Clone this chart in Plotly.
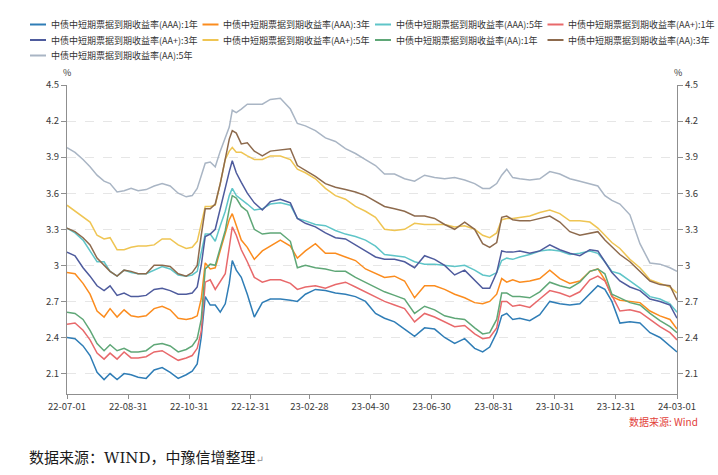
import plotly.graph_objects as go

# ---------------- data ----------------
dates = [
    "2022-07-01", "2022-07-09", "2022-07-17", "2022-07-24", "2022-07-31", "2022-08-07", "2022-08-13", "2022-08-20",
    "2022-08-27", "2022-09-03", "2022-09-10", "2022-09-18", "2022-09-26", "2022-10-04", "2022-10-12", "2022-10-20",
    "2022-10-28", "2022-11-03", "2022-11-08", "2022-11-12", "2022-11-16", "2022-11-21", "2022-11-26", "2022-12-01",
    "2022-12-06", "2022-12-10", "2022-12-13", "2022-12-17", "2022-12-22", "2022-12-28", "2023-01-04", "2023-01-12",
    "2023-01-20", "2023-01-30", "2023-02-09", "2023-02-16", "2023-02-24", "2023-03-06", "2023-03-16", "2023-03-26",
    "2023-04-05", "2023-04-15", "2023-04-25", "2023-05-05", "2023-05-14", "2023-05-24", "2023-06-03", "2023-06-13",
    "2023-06-23", "2023-07-03", "2023-07-13", "2023-07-23", "2023-08-02", "2023-08-12", "2023-08-20", "2023-08-27",
    "2023-09-03", "2023-09-08", "2023-09-13", "2023-09-19", "2023-09-26", "2023-10-06", "2023-10-16", "2023-10-26",
    "2023-11-05", "2023-11-15", "2023-11-25", "2023-12-05", "2023-12-13", "2023-12-20", "2023-12-27", "2024-01-04",
    "2024-01-14", "2024-01-24", "2024-02-03", "2024-02-13", "2024-02-23", "2024-03-01",
]

aaa_1y = [2.40, 2.39, 2.33, 2.25, 2.11, 2.05, 2.10, 2.05, 2.10, 2.09,
          2.07, 2.06, 2.13, 2.15, 2.11, 2.06, 2.09, 2.12, 2.18, 2.40,
          2.74, 2.67, 2.67, 2.61, 2.68, 2.85, 3.04, 2.96, 2.90, 2.76,
          2.57, 2.69, 2.72, 2.72, 2.71, 2.70, 2.76, 2.80, 2.79, 2.77,
          2.76, 2.74, 2.70, 2.60, 2.56, 2.53, 2.47, 2.41, 2.48, 2.47,
          2.40, 2.35, 2.39, 2.31, 2.28, 2.32, 2.44, 2.58, 2.60, 2.55,
          2.56, 2.54, 2.59, 2.70, 2.68, 2.67, 2.68, 2.76, 2.83, 2.80,
          2.70, 2.52, 2.53, 2.52, 2.44, 2.40, 2.33, 2.28]
aaa_3y = [2.94, 2.93, 2.85, 2.76, 2.62, 2.57, 2.64, 2.57, 2.63, 2.58,
          2.57, 2.58, 2.64, 2.66, 2.63, 2.56, 2.55, 2.56, 2.58, 2.72,
          3.02, 2.97, 2.98, 3.12, 3.28, 3.38, 3.43, 3.33, 3.21, 3.15,
          3.05, 3.12, 3.16, 3.21, 3.16, 3.06, 3.12, 3.18, 3.10, 3.10,
          3.07, 3.04, 2.97, 2.93, 2.90, 2.91, 2.87, 2.73, 2.83, 2.83,
          2.80, 2.76, 2.73, 2.69, 2.68, 2.70, 2.76, 2.89, 2.86, 2.88,
          2.86, 2.87, 2.89, 2.96, 2.89, 2.85, 2.87, 2.95, 2.97, 2.88,
          2.74, 2.71, 2.70, 2.69, 2.62, 2.58, 2.55, 2.47]
aaa_5y = [3.31, 3.27, 3.21, 3.12, 3.03, 3.03, 2.95, 2.91, 2.96, 2.94,
          2.93, 2.93, 2.96, 2.99, 2.97, 2.92, 2.91, 2.92, 2.95, 3.12,
          3.26, 3.26, 3.20, 3.33, 3.45, 3.58, 3.64, 3.58, 3.55, 3.51,
          3.46, 3.47, 3.51, 3.52, 3.50, 3.39, 3.37, 3.34, 3.33, 3.29,
          3.26, 3.24, 3.21, 3.16, 3.09, 3.08, 3.07, 3.03, 3.01, 3.01,
          3.00, 2.99, 3.00, 2.96, 2.92, 2.91, 2.94, 3.04, 3.06, 3.05,
          3.07, 3.09, 3.12, 3.13, 3.12, 3.09, 3.10, 3.12, 3.10, 3.03,
          2.95, 2.93, 2.87, 2.81, 2.74, 2.72, 2.68, 2.61]
aap_1y = [2.51, 2.52, 2.46, 2.38, 2.27, 2.22, 2.27, 2.22, 2.28, 2.23,
          2.23, 2.24, 2.28, 2.29, 2.25, 2.21, 2.23, 2.25, 2.31, 2.45,
          2.86, 2.88, 2.80, 2.87, 2.93, 3.15, 3.32, 3.25, 3.13, 3.03,
          2.90, 2.86, 2.88, 2.88, 2.85, 2.80, 2.82, 2.83, 2.81, 2.84,
          2.86, 2.82, 2.78, 2.74, 2.70, 2.67, 2.64, 2.53, 2.60, 2.57,
          2.53, 2.49, 2.50, 2.43, 2.39, 2.40, 2.48, 2.70, 2.70, 2.66,
          2.67, 2.65, 2.72, 2.79, 2.77, 2.74, 2.78, 2.88, 2.91, 2.87,
          2.75, 2.62, 2.63, 2.61, 2.55, 2.49, 2.44, 2.38]
aap_3y = [3.11, 3.08, 2.98, 2.91, 2.83, 2.79, 2.83, 2.75, 2.77, 2.74,
          2.74, 2.75, 2.80, 2.81, 2.79, 2.76, 2.76, 2.77, 2.82, 3.00,
          3.24, 3.26, 3.30, 3.48, 3.65, 3.78, 3.87, 3.77, 3.69, 3.60,
          3.52, 3.46, 3.53, 3.55, 3.52, 3.39, 3.35, 3.32, 3.27, 3.23,
          3.22, 3.17, 3.12, 3.07, 3.05, 3.05, 3.03, 2.98, 3.08, 3.05,
          3.00, 2.92, 2.96, 2.88, 2.81, 2.81, 2.94, 3.12, 3.11, 3.11,
          3.12, 3.10, 3.12, 3.17, 3.13, 3.10, 3.08, 3.13, 3.12, 3.03,
          2.94, 2.87, 2.82, 2.79, 2.72, 2.70, 2.67, 2.56]
aap_5y = [3.50, 3.45, 3.40, 3.36, 3.25, 3.22, 3.23, 3.13, 3.13, 3.15,
          3.16, 3.16, 3.17, 3.22, 3.22, 3.17, 3.14, 3.15, 3.20, 3.35,
          3.49, 3.49, 3.50, 3.68, 3.88, 3.95, 3.98, 3.94, 3.94, 3.91,
          3.88, 3.88, 3.91, 3.91, 3.88, 3.80, 3.77, 3.72, 3.64, 3.58,
          3.55, 3.49, 3.45, 3.40, 3.30, 3.29, 3.30, 3.35, 3.34, 3.34,
          3.34, 3.32, 3.33, 3.30, 3.25, 3.23, 3.27, 3.38, 3.39, 3.39,
          3.40, 3.41, 3.44, 3.46, 3.43, 3.37, 3.37, 3.36, 3.31, 3.25,
          3.19, 3.14, 3.05, 2.98, 2.88, 2.85, 2.82, 2.77]
aa_1y = [2.61, 2.60, 2.55, 2.46, 2.35, 2.29, 2.34, 2.29, 2.31, 2.28,
         2.28, 2.29, 2.34, 2.35, 2.33, 2.28, 2.30, 2.33, 2.39, 2.55,
         2.97, 3.01, 3.00, 3.15, 3.29, 3.47, 3.58, 3.56, 3.49, 3.45,
         3.30, 3.26, 3.27, 3.27, 3.20, 2.98, 3.00, 2.98, 2.97, 2.95,
         2.95, 2.90, 2.86, 2.82, 2.78, 2.75, 2.72, 2.60, 2.66, 2.63,
         2.58, 2.56, 2.55, 2.48, 2.43, 2.44, 2.55, 2.77, 2.77, 2.74,
         2.74, 2.73, 2.78, 2.86, 2.83, 2.81, 2.86, 2.95, 2.97, 2.93,
         2.76, 2.73, 2.69, 2.67, 2.60, 2.54, 2.49, 2.44]
aa_3y = [3.31, 3.28, 3.23, 3.17, 3.06, 3.00, 2.95, 2.91, 2.96, 2.95,
         2.93, 2.93, 3.00, 3.00, 2.99, 2.93, 2.91, 2.94, 3.00, 3.25,
         3.47, 3.47, 3.51, 3.68, 3.90, 4.05, 4.12, 4.10, 4.01, 4.02,
         3.95, 3.91, 3.95, 3.96, 3.97, 3.83, 3.79, 3.74, 3.68, 3.65,
         3.63, 3.61, 3.58, 3.53, 3.49, 3.47, 3.45, 3.41, 3.41, 3.39,
         3.34, 3.30, 3.36, 3.30, 3.18, 3.15, 3.19, 3.40, 3.41, 3.38,
         3.37, 3.37, 3.39, 3.41, 3.36, 3.28, 3.25, 3.27, 3.28, 3.21,
         3.15, 3.09, 3.03, 2.95, 2.87, 2.84, 2.83, 2.71]
aa_5y = [3.98, 3.94, 3.88, 3.82, 3.75, 3.70, 3.68, 3.61, 3.62, 3.64,
         3.62, 3.63, 3.66, 3.68, 3.66, 3.60, 3.57, 3.58, 3.64, 3.74,
         3.85, 3.86, 3.82, 3.95, 4.07, 4.15, 4.29, 4.27, 4.30, 4.34,
         4.34, 4.34, 4.38, 4.39, 4.30, 4.18, 4.16, 4.12, 4.06, 4.03,
         3.97, 3.93, 3.88, 3.83, 3.76, 3.76, 3.72, 3.70, 3.75, 3.73,
         3.72, 3.73, 3.71, 3.68, 3.64, 3.64, 3.68, 3.75, 3.80, 3.73,
         3.72, 3.71, 3.72, 3.78, 3.76, 3.72, 3.70, 3.68, 3.66, 3.58,
         3.54, 3.51, 3.42, 3.18, 3.02, 3.01, 2.98, 2.95]

series_names = [
    "中债中短期票据到期收益率(AAA):1年", "中债中短期票据到期收益率(AAA):3年", "中债中短期票据到期收益率(AAA):5年",
    "中债中短期票据到期收益率(AA+):1年", "中债中短期票据到期收益率(AA+):3年", "中债中短期票据到期收益率(AA+):5年",
    "中债中短期票据到期收益率(AA):1年", "中债中短期票据到期收益率(AA):3年", "中债中短期票据到期收益率(AA):5年",
]
series_values = [aaa_1y, aaa_3y, aaa_5y, aap_1y, aap_3y, aap_5y, aa_1y, aa_3y, aa_5y]

y_tick_vals = [2.1, 2.4, 2.7, 3.0, 3.3, 3.6, 3.9, 4.2, 4.5]
y_tick_text = ["2.1", "2.4", "2.7", "3", "3.3", "3.6", "3.9", "4.2", "4.5"]
x_tick_vals = ["2022-07-01", "2022-08-31", "2022-10-31", "2022-12-31", "2023-02-28", "2023-04-30",
               "2023-06-30", "2023-08-31", "2023-10-31", "2023-12-31", "2024-03-01"]
x_tick_text = ["22-07-01", "22-08-31", "22-10-31", "22-12-31", "23-02-28", "23-04-30",
               "23-06-30", "23-08-31", "23-10-31", "23-12-31", "24-03-01"]

# ---------------- style ----------------
colors = ["#2f7db6", "#fb8c1e", "#5fc5c8", "#e8696b", "#4e5b9d",
          "#efc553", "#5fa777", "#8d6a4d", "#a9b5c4"]

W, H = 718, 475
L, R, T, B = 67, 41, 85, 81
PW, PH = W - L - R, H - T - B


def ax(xp):
    return (xp - L) / PW


def ay(yp):
    return 1 - (yp - T) / PH


CJK = "Noto Sans CJK SC, Noto Sans, sans-serif"
AXIS_COL = "#8f8f8f"

fig = go.Figure()
for name, vals, col in zip(series_names, series_values, colors):
    fig.add_trace(go.Scatter(x=dates, y=vals, mode="lines", name=name,
                             line=dict(color=col, width=1.5), showlegend=False))
# helper trace so the right-hand axis is drawn
fig.add_trace(go.Scatter(x=dates, y=aa_5y, yaxis="y2", mode="lines", opacity=0,
                         line=dict(width=0), showlegend=False, hoverinfo="skip"))

yr = [1.93, 4.5]
common_y = dict(range=yr, tickvals=y_tick_vals, ticktext=y_tick_text, ticks="outside", ticklen=5,
                tickcolor=AXIS_COL, showline=True, linecolor=AXIS_COL, linewidth=1, zeroline=False,
                tickfont=dict(family=CJK, size=9.5, color="#3a3a3a"), fixedrange=True)

fig.update_layout(
    width=W, height=H,
    margin=dict(l=L, r=R, t=T, b=B, pad=0),
    plot_bgcolor="white", paper_bgcolor="white",
    font=dict(family=CJK, size=9.5, color="#333333"),
    showlegend=False,
    xaxis=dict(type="date", range=[dates[0], dates[-1]], tickvals=x_tick_vals, ticktext=x_tick_text,
               ticks="outside", ticklen=4, tickcolor=AXIS_COL, showline=True, linecolor=AXIS_COL,
               linewidth=1, showgrid=False, zeroline=False,
               tickfont=dict(family=CJK, size=9.5, color="#3a3a3a")),
    yaxis=dict(**common_y, showgrid=True, gridcolor="#e6e6e6", griddash="dash", gridwidth=1),
    yaxis2=dict(**common_y, overlaying="y", side="right", showgrid=False),
)

# legend (drawn manually to match the compact 4-column layout)
col_x = [30, 202.5, 375, 547.5]
row_y = [24.5, 40, 55.5]
shapes = []
annotations = []
for i, (name, col) in enumerate(zip(series_names, colors)):
    c, r = i % 4, i // 4
    x0, y0 = col_x[c], row_y[r]
    shapes.append(dict(type="line", xref="paper", yref="paper", x0=ax(x0), x1=ax(x0 + 16),
                       y0=ay(y0), y1=ay(y0), line=dict(color=col, width=2)))
    annotations.append(dict(xref="paper", yref="paper", x=ax(x0 + 19.5), y=ay(y0), text=name,
                            showarrow=False, xanchor="left", yanchor="middle", borderpad=0,
                            font=dict(family=CJK, size=9, color="#333333")))

# unit labels
for xp in (66.5, 677.5):
    annotations.append(dict(xref="paper", yref="paper", x=ax(xp), y=ay(72.5), text="%", showarrow=False,
                            xanchor="center", yanchor="middle", borderpad=0,
                            font=dict(family=CJK, size=9, color="#333333")))

# source notes
annotations.append(dict(xref="paper", yref="paper", x=ax(699), y=ay(421.5), text="数据来源: Wind",
                        showarrow=False, xanchor="right", yanchor="middle", borderpad=0,
                        font=dict(family=CJK, size=10, color="#e2403a")))
annotations.append(dict(xref="paper", yref="paper", x=ax(28), y=ay(458),
                        text='数据来源：WIND，中豫信增整理<span style="font-size:10px;color:#888888">↵</span>',
                        showarrow=False, xanchor="left", yanchor="middle", borderpad=0,
                        font=dict(family="DejaVu Serif, Noto Sans CJK SC, serif", size=15, color="#1a1a1a")))

fig.update_layout(shapes=shapes, annotations=annotations)

fig.write_html("out.html")
